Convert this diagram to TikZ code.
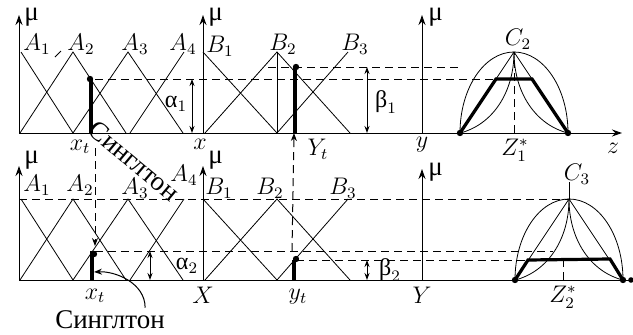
\documentclass[tikz,border=0pt]{standalone}
\usepackage{fontspec}
\newfontfamily\cyr{Liberation Serif}
\usetikzlibrary{math,arrows.meta}

\begin{document}
\begin{tikzpicture}[x=0.5pt, y=0.5pt,
	axis/.style={-{Stealth[length=5pt,width=3.5pt]}, line width=0.5pt},
	span/.style={{Stealth[length=3.5pt,width=2.5pt]}-{Stealth[length=3.5pt,width=2.5pt]}, line width=0.5pt},
	level/.style={dash pattern=on 4pt off 2.5pt, line width=0.5pt},
	spike/.style={line width=1.6pt},
	lbl/.style={font=\large, inner sep=1pt},
	cyrlbl/.style={font=\cyr\fontsize{13.5}{15}\selectfont, inner sep=1pt}]
	% Constants
	\tikzmath{\peak = 81; \axtop = 118; \axbot = 114;}
	\useasboundingbox (0,0) rectangle (633,334);

	% Upper row
	\begin{scope}[shift={(0,201)}]
		% Axes
		\draw[axis] (19,0) -- (622,0);
		\draw[axis] (19,0) -- (19,\axtop);
		\draw[axis] (203,0) -- (203,\axtop);
		\draw[axis] (422,0) -- (422,\axtop);
		\node[cyrlbl, anchor=west] (muA) at (22,116) {μ};
		\node[cyrlbl, anchor=west] (muB) at (206,116) {μ};
		\node[cyrlbl, anchor=west] (muC) at (426,116) {μ};

		% Input terms
		\draw (21,\peak) -- (73,0);
		\draw (20,0) -- (73,\peak) -- (126,0);
		\draw (73,0) -- (128,\peak) -- (183,0);
		\draw (130,0) -- (184,\peak);
		\draw (55,76) -- (61,82);
		\node[lbl] (A1) at (37,89) {$A_1$};
		\node[lbl] (A2) at (81,89) {$A_2$};
		\node[lbl] (A3) at (135,89) {$A_3$};
		\node[lbl] (A4) at (183,89) {$A_4$};

		% Output terms
		\draw (203,\peak) -- (277,0);
		\draw (205,0) -- (277,\peak) -- (350,0);
		\draw (277,0) -- (348,\peak);
		\draw (277,0) -- (277,\peak);
		\node[lbl] (B1) at (220,87) {$B_1$};
		\node[lbl] (B2) at (283,89) {$B_2$};
		\node[lbl] (B3) at (355,89) {$B_3$};

		% Singletons and levels
		\draw[spike] (91,0) -- (91,53);
		\fill (90,54) circle (1.6pt);
		\draw[spike] (295,0) -- (295,66);
		\fill (296,66) circle (1.6pt);
		\draw[level] (95,54) -- (496,54);
		\draw[level] (268,66) -- (460,66);
		\draw[span] (192,0) -- (192,54);
		\draw[span] (367,0) -- (367,66);
		\node[lbl] (al1) at (176,29) {$\mbox{\cyr α}_1$};
		\node[lbl] (be1) at (386,31) {$\mbox{\cyr β}_1$};

		% Conclusion
		\draw (460,0) arc[start angle=180, end angle=0, x radius=54, y radius=\peak];
		\draw (460,0) -- (514,\peak) -- (568,0);
		\draw (460,0) .. controls (492,8) and (514,40) .. (514,\peak);
		\draw (568,0) .. controls (536,8) and (514,40) .. (514,\peak);
		\draw[spike] (460,0) -- (496,54) -- (532,54) -- (568,0);
		\draw[level] (514,0) -- (514,\peak);
		\fill (460,0) circle (1.6pt) (568,0) circle (1.6pt);
		\node[lbl] (C2) at (518,94) {$C_2$};

		% Axis labels
		\node[lbl] (xt) at (80,-14) {$x_t$};
		\node[lbl] (xA) at (200,-11) {$x$};
		\node[lbl] (Yt) at (318,-16) {$Y_t$};
		\node[lbl] (yB) at (422,-12) {$y$};
		\node[lbl] (Z1) at (515,-17) {$Z_1^*$};
		\node[lbl] (zC) at (613,-15) {$z$};
		\node[cyrlbl, rotate=-40] (singTop) at (134,-28) {Синглтон};
		\coordinate (xtDown) at (95,-15);
		\coordinate (ytUp) at (294,0);
	\end{scope}

	% Lower row
	\begin{scope}[shift={(0,54)}]
		% Axes
		\draw (19,0) -- (630,0);
		\fill (631,0) circle (1.4pt);
		\draw[axis] (19,0) -- (19,\axbot);
		\draw[axis] (203,0) -- (203,\axbot);
		\draw[axis] (422,0) -- (422,\axbot-3);
		\node[cyrlbl, anchor=west] (muX) at (22,120) {μ};
		\node[cyrlbl, anchor=west] (muY) at (206,120) {μ};
		\node[cyrlbl, anchor=west] (muZ) at (426,108) {μ};

		% Input terms
		\draw[level] (19,\peak) -- (568,\peak);
		\draw (21,\peak) -- (73,0);
		\draw (20,0) -- (73,\peak) -- (126,0);
		\draw (73,0) -- (128,\peak) -- (183,0);
		\draw (130,0) -- (184,\peak);
		\node[lbl] (A1b) at (37,95) {$A_1$};
		\node[lbl] (A2b) at (80,95) {$A_2$};
		\node[lbl] (A3b) at (135,92) {$A_3$};
		\node[lbl] (A4b) at (184,105) {$A_4$};

		% Output terms
		\draw (203,\peak) -- (277,0);
		\draw (205,0) -- (277,\peak) -- (350,0);
		\draw (277,0) -- (348,\peak);
		\node[lbl] (B1b) at (219,92) {$B_1$};
		\node[lbl] (B2b) at (270,92) {$B_2$};
		\node[lbl] (B3b) at (343,92) {$B_3$};

		% Singletons and levels
		\draw[spike] (92,0) -- (92,29);
		\fill (94,26) circle (1.6pt);
		\draw[spike] (294,0) -- (294,20);
		\fill (296,21) circle (1.6pt);
		\draw[level] (95,29) -- (553,29);
		\draw[level] (296,20) -- (527,20);
		\draw[span] (150,0) -- (150,29);
		\draw[span] (367,0) -- (367,20);
		\node[lbl] (al2) at (187,14) {$\mbox{\cyr α}_2$};
		\node[lbl] (be2) at (390,10) {$\mbox{\cyr β}_2$};

		% Conclusion
		\draw (515,0) arc[start angle=180, end angle=0, x radius=54, y radius=\peak];
		\draw (515,0) -- (569,\peak) -- (623,0);
		\draw (515,0) .. controls (547,8) and (569,40) .. (569,\peak);
		\draw (623,0) .. controls (591,8) and (569,40) .. (569,\peak);
		\draw (569,\peak) -- (569,98);
		\draw[spike] (515,0) -- (528,20) -- (610,21) -- (623,0);
		\draw[level] (563,0) -- (563,20);
		\fill (515,0) circle (1.6pt) (623,0) circle (1.6pt);
		\node[lbl] (C3) at (577,106) {$C_3$};

		% Axis labels
		\node[lbl] (xtb) at (95,-16) {$x_t$};
		\node[lbl] (XB) at (203,-15) {$X$};
		\node[lbl] (ytb) at (298,-17) {$y_t$};
		\node[lbl] (YB) at (422,-15) {$Y$};
		\node[lbl] (Z2) at (563,-17) {$Z_2^*$};
		\node[cyrlbl, anchor=base, text depth=0pt] (singBot) at (110,-48) {Синглтон};
		\coordinate (xtHit) at (95,34);
		\coordinate (ytFrom) at (292,29);
		\coordinate (spikeHit) at (94,8);
	\end{scope}

	% Links between rows
	\draw[level, -{Stealth[length=4pt,width=3pt]}] (xtDown) -- (xtHit);
	\draw[level, -{Stealth[length=4pt,width=3pt]}] (ytFrom) -- (ytUp);
	\draw[-{Stealth[length=4pt,width=3pt]}, line width=0.5pt] (singBot.north east) ++(-22,0) .. controls +(0,25) and (115,63) .. (spikeHit);
\end{tikzpicture}
\end{document}
